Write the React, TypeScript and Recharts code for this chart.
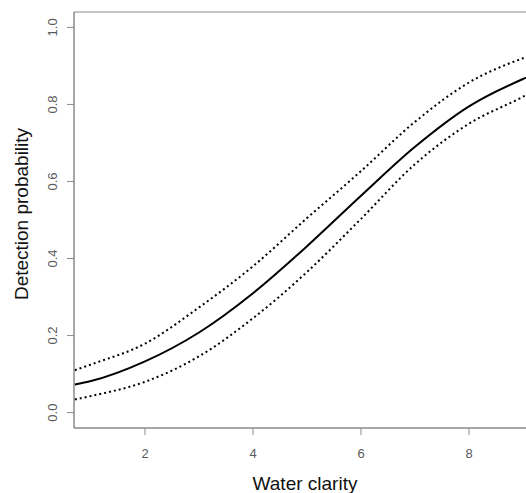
import React from 'react';
import { LineChart, Line, XAxis, YAxis, ReferenceArea } from 'recharts';

// water clarity values where the curves were read
const clarity = [0.7, 1, 2, 3, 4, 5, 6, 7, 8, 9, 9.2];
// fitted detection probability
const fitted = [0.073, 0.082, 0.133, 0.208, 0.31, 0.432, 0.563, 0.69, 0.795, 0.866, 0.878];
// upper and lower confidence bands
const upper = [0.11, 0.125, 0.179, 0.273, 0.38, 0.505, 0.627, 0.755, 0.857, 0.92, 0.93];
const lower = [0.034, 0.043, 0.08, 0.146, 0.245, 0.365, 0.503, 0.645, 0.75, 0.82, 0.835];

const xTicks = [2, 4, 6, 8];
const yTicks = [0, 0.2, 0.4, 0.6, 0.8, 1.0];

const data = clarity.map((x, i) => ({ x, fit: fitted[i], hi: upper[i], lo: lower[i] }));

const FONT = '"Liberation Sans", Arial, Helvetica, sans-serif';
const FRAME = '#8a8a8a';
const LABEL = '#5a5a5a';

const YTick = (props: any) => {
  const { x, y, payload } = props;
  return (
    <text
      x={x}
      y={y}
      transform={`rotate(-90, ${x}, ${y})`}
      textAnchor="middle"
      fontSize={13}
      fill={LABEL}
      fontFamily={FONT}
    >
      {payload.value.toFixed(1)}
    </text>
  );
};

export default function App() {
  return (
    <div
      style={{
        position: 'absolute',
        left: 0,
        top: 0,
        width: 526,
        height: 493,
        overflow: 'hidden',
        background: '#fff',
        fontFamily: FONT,
      }}
    >
      <LineChart
        width={552}
        height={493}
        data={data}
        margin={{ top: 12, right: 2, bottom: 35, left: 0 }}
      >
        <XAxis
          dataKey="x"
          type="number"
          domain={[0.685, 9.5]}
          allowDataOverflow
          ticks={xTicks}
          height={30}
          tickSize={7}
          tickMargin={14}
          stroke={FRAME}
          tick={{ fill: LABEL, fontSize: 13, fontFamily: FONT }}
        />
        <YAxis
          type="number"
          domain={[-0.04, 1.04]}
          allowDataOverflow
          ticks={yTicks}
          width={74}
          tickSize={7}
          tickMargin={10}
          stroke={FRAME}
          tick={<YTick />}
        />
        <ReferenceArea
          x1={0.685}
          x2={9.5}
          y1={-0.04}
          y2={1.04}
          fill="none"
          stroke={FRAME}
          strokeWidth={1}
        />
        <Line
          dataKey="hi"
          type="monotone"
          stroke="#000"
          strokeWidth={2}
          strokeDasharray="2 3"
          dot={false}
          isAnimationActive={false}
        />
        <Line
          dataKey="lo"
          type="monotone"
          stroke="#000"
          strokeWidth={2}
          strokeDasharray="2 3"
          dot={false}
          isAnimationActive={false}
        />
        <Line
          dataKey="fit"
          type="monotone"
          stroke="#000"
          strokeWidth={2}
          dot={false}
          isAnimationActive={false}
        />
      </LineChart>
      <div
        style={{
          position: 'absolute',
          left: 0,
          width: 610,
          top: 473,
          textAlign: 'center',
          fontSize: 19,
          color: '#111',
        }}
      >
        Water clarity
      </div>
      <div
        style={{
          position: 'absolute',
          left: 22,
          top: 214,
          transform: 'translate(-50%, -50%) rotate(-90deg)',
          whiteSpace: 'nowrap',
          fontSize: 19,
          color: '#111',
        }}
      >
        Detection probability
      </div>
    </div>
  );
}
